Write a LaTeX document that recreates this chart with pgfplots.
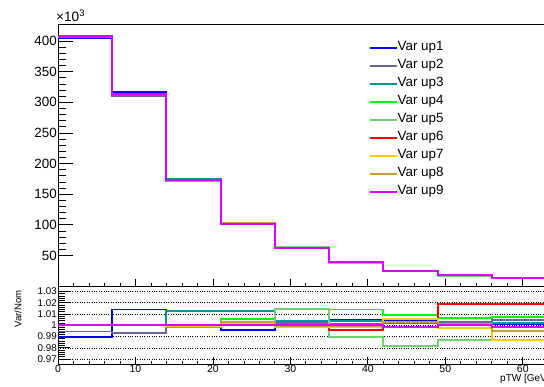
\documentclass[border=0pt]{standalone}
\usepackage{fontspec}
\setmainfont{Liberation Sans}
\usepackage{pgfplots}
\usepackage{pgfplotstable}
\pgfplotsset{compat=1.18}

\definecolor{cup1}{RGB}{0,0,255}
\definecolor{cup2}{RGB}{102,102,160}
\definecolor{cup3}{RGB}{0,153,153}
\definecolor{cup4}{RGB}{0,255,0}
\definecolor{cup5}{RGB}{110,210,110}
\definecolor{cup6}{RGB}{255,0,0}
\definecolor{cup7}{RGB}{255,204,0}
\definecolor{cup8}{RGB}{204,153,51}
\definecolor{cup9}{RGB}{221,0,255}

% event yields (in thousands) per pTW bin, left bin edges; last row closes the final bin
\pgfplotstableread{
x  u1     u2     u3     u4     u5     u6     u7     u8     u9
0  404.9  406.8  409    409    409    409    409    409    409
7  317.4  311.0  313    313    313    313    313    313    313
14 172.5  172.5  174.7  172.2  172.3  172.5  172.4  172.5  172.5
21 101.5  102.1  103.3  102.6  102.1  102.3  102.2  102.3  102
28 62.55  62.6   62.7   63.4   63.4   62.4   62.4   62.44  62.54
35 38.67  38.54  38.64  39.04  38.1   38.35  38.42  38.46  38.5
42 25.1   25.08  25.05  25.22  24.54  25.15  25.14  25.08  24.97
49 17.34  17.35  17.32  17.41  17.07  17.62  17.26  17.32  17.31
56 13.02  13.06  13.03  13.09  12.93  13.24  12.83  12.94  12.98
63 13.02  13.06  13.03  13.09  12.93  13.24  12.83  12.94  12.98
}\yields

% variation / nominal ratios per bin
\pgfplotstableread{
x  r1     r2     r3     r4     r5     r6     r7     r8     r9
0  0.990  0.9945 1.000  1.000  1.000  1.000  1.000  1.000  1.000
7  1.014  0.9935 1.000  1.000  1.000  1.000  1.000  1.000  1.000
14 1.000  1.000  1.0125 0.998  0.999  1.000  0.9995 1.000  1.000
21 0.9955 1.001  1.0125 1.0057 1.001  1.003  1.002  1.003  1.000
28 1.0008 1.002  1.0036 1.0146 1.0145 0.9988 0.9983 0.999  1.0006
35 1.0045 1.001  1.0036 1.014  0.9896 0.9961 0.998  0.999  1.000
42 1.004  1.003  1.002  1.0088 0.9815 1.006  1.0055 1.003  0.9988
49 1.0024 1.003  1.001  1.0063 0.9866 1.0185 0.9976 1.001  1.0006
56 1.0015 1.0048 1.002  1.0072 0.9948 1.0185 0.9866 0.9952 0.9985
63 1.0015 1.0048 1.002  1.0072 0.9948 1.0185 0.9866 0.9952 0.9985
}\ratios

\pgfplotsset{
  rootpad/.style={
    scale only axis, width=488pt,
    xmin=0, xmax=63,
    axis line style={line width=0.8pt, black},
    tick align=inside, xtick pos=left, ytick pos=left,
    xtick={0,10,...,60}, minor x tick num=4,
    tick style={line width=0.8pt, black},
    every major x tick/.append style={/pgfplots/major tick length=7pt},
    every minor x tick/.append style={/pgfplots/minor tick length=3.5pt},
    /pgf/number format/assume math mode=true,
  },
  hist/.style={const plot, line width=1.9pt, no markers},
}

\begin{document}
\begin{tikzpicture}
% upper pad: yields
\begin{axis}[rootpad,
  at={(58pt,100pt)}, anchor=south west, height=262pt,
  ymin=0, ymax=428,
  xticklabels={},
  ytick={50,100,...,400}, minor y tick num=4,
  every major y tick/.append style={/pgfplots/major tick length=15pt},
  every minor y tick/.append style={/pgfplots/minor tick length=7.5pt},
  yticklabel style={font=\fontsize{13.4}{14}\selectfont, inner sep=1pt},
  legend cell align=left,
  legend image code/.code={\draw[#1, line width=2pt] (0pt,0pt) -- (27pt,0pt);},
  legend style={draw=none, fill=none, at={(0.63,0.942)}, anchor=north west,
    font=\fontsize{13.4}{14}\selectfont, row sep=5pt,
    nodes={inner sep=0pt, text height=9.6pt, text depth=3.4pt},
    /tikz/every even column/.append style={column sep=7pt}},
]
\addplot[hist, cup1] table[x=x, y=u1] {\yields}; \addlegendentry{Var up1}
\addplot[hist, cup2] table[x=x, y=u2] {\yields}; \addlegendentry{Var up2}
\addplot[hist, cup3] table[x=x, y=u3] {\yields}; \addlegendentry{Var up3}
\addplot[hist, cup4] table[x=x, y=u4] {\yields}; \addlegendentry{Var up4}
\addplot[hist, cup5] table[x=x, y=u5] {\yields}; \addlegendentry{Var up5}
\addplot[hist, cup6] table[x=x, y=u6] {\yields}; \addlegendentry{Var up6}
\addplot[hist, cup7] table[x=x, y=u7] {\yields}; \addlegendentry{Var up7}
\addplot[hist, cup8] table[x=x, y=u8] {\yields}; \addlegendentry{Var up8}
\addplot[hist, cup9] table[x=x, y=u9] {\yields}; \addlegendentry{Var up9}
\end{axis}

% lower pad: ratios to nominal
\begin{axis}[rootpad,
  at={(58pt,22pt)}, anchor=south west, height=78pt,
  ymin=0.9657, ymax=1.0348,
  ytick={0.97,0.98,0.99,1,1.01,1.02,1.03},
  yticklabels={0.97,0.98,0.99,1,1.01,1.02,1.03},
  minor y tick num=4,
  every major y tick/.append style={/pgfplots/major tick length=12pt},
  every minor y tick/.append style={/pgfplots/minor tick length=7pt},
  ymajorgrids, major grid style={black, line width=0.6pt, dash pattern=on 0.8pt off 1.6pt},
  yticklabel style={font=\fontsize{9.8}{10}\selectfont, inner sep=1pt},
  xticklabel style={font=\fontsize{10.5}{11}\selectfont, inner sep=1pt},
]
\addplot[hist, cup1] table[x=x, y=r1] {\ratios};
\addplot[hist, cup2] table[x=x, y=r2] {\ratios};
\addplot[hist, cup3] table[x=x, y=r3] {\ratios};
\addplot[hist, cup4] table[x=x, y=r4] {\ratios};
\addplot[hist, cup5] table[x=x, y=r5] {\ratios};
\addplot[hist, cup6] table[x=x, y=r6] {\ratios};
\addplot[hist, cup7] table[x=x, y=r7] {\ratios};
\addplot[hist, cup8] table[x=x, y=r8] {\ratios};
\addplot[hist, cup9] table[x=x, y=r9] {\ratios};
\end{axis}

% pad titles and multiplier
\node[anchor=south west, inner sep=0pt, font=\fontsize{13.6}{14}\selectfont] at (56pt,364pt) {×10\textsuperscript{3}};
\node[rotate=90, inner sep=0pt, font=\fontsize{9.6}{10}\selectfont] at (18pt,77pt) {Var/Nom};
\node[anchor=west, inner sep=0pt, font=\fontsize{10}{11}\selectfont] at (500pt,7pt) {pTW [GeV]};

\pgfresetboundingbox
\path[use as bounding box] (0pt,0pt) rectangle (544pt,386pt);
\end{tikzpicture}
\end{document}
